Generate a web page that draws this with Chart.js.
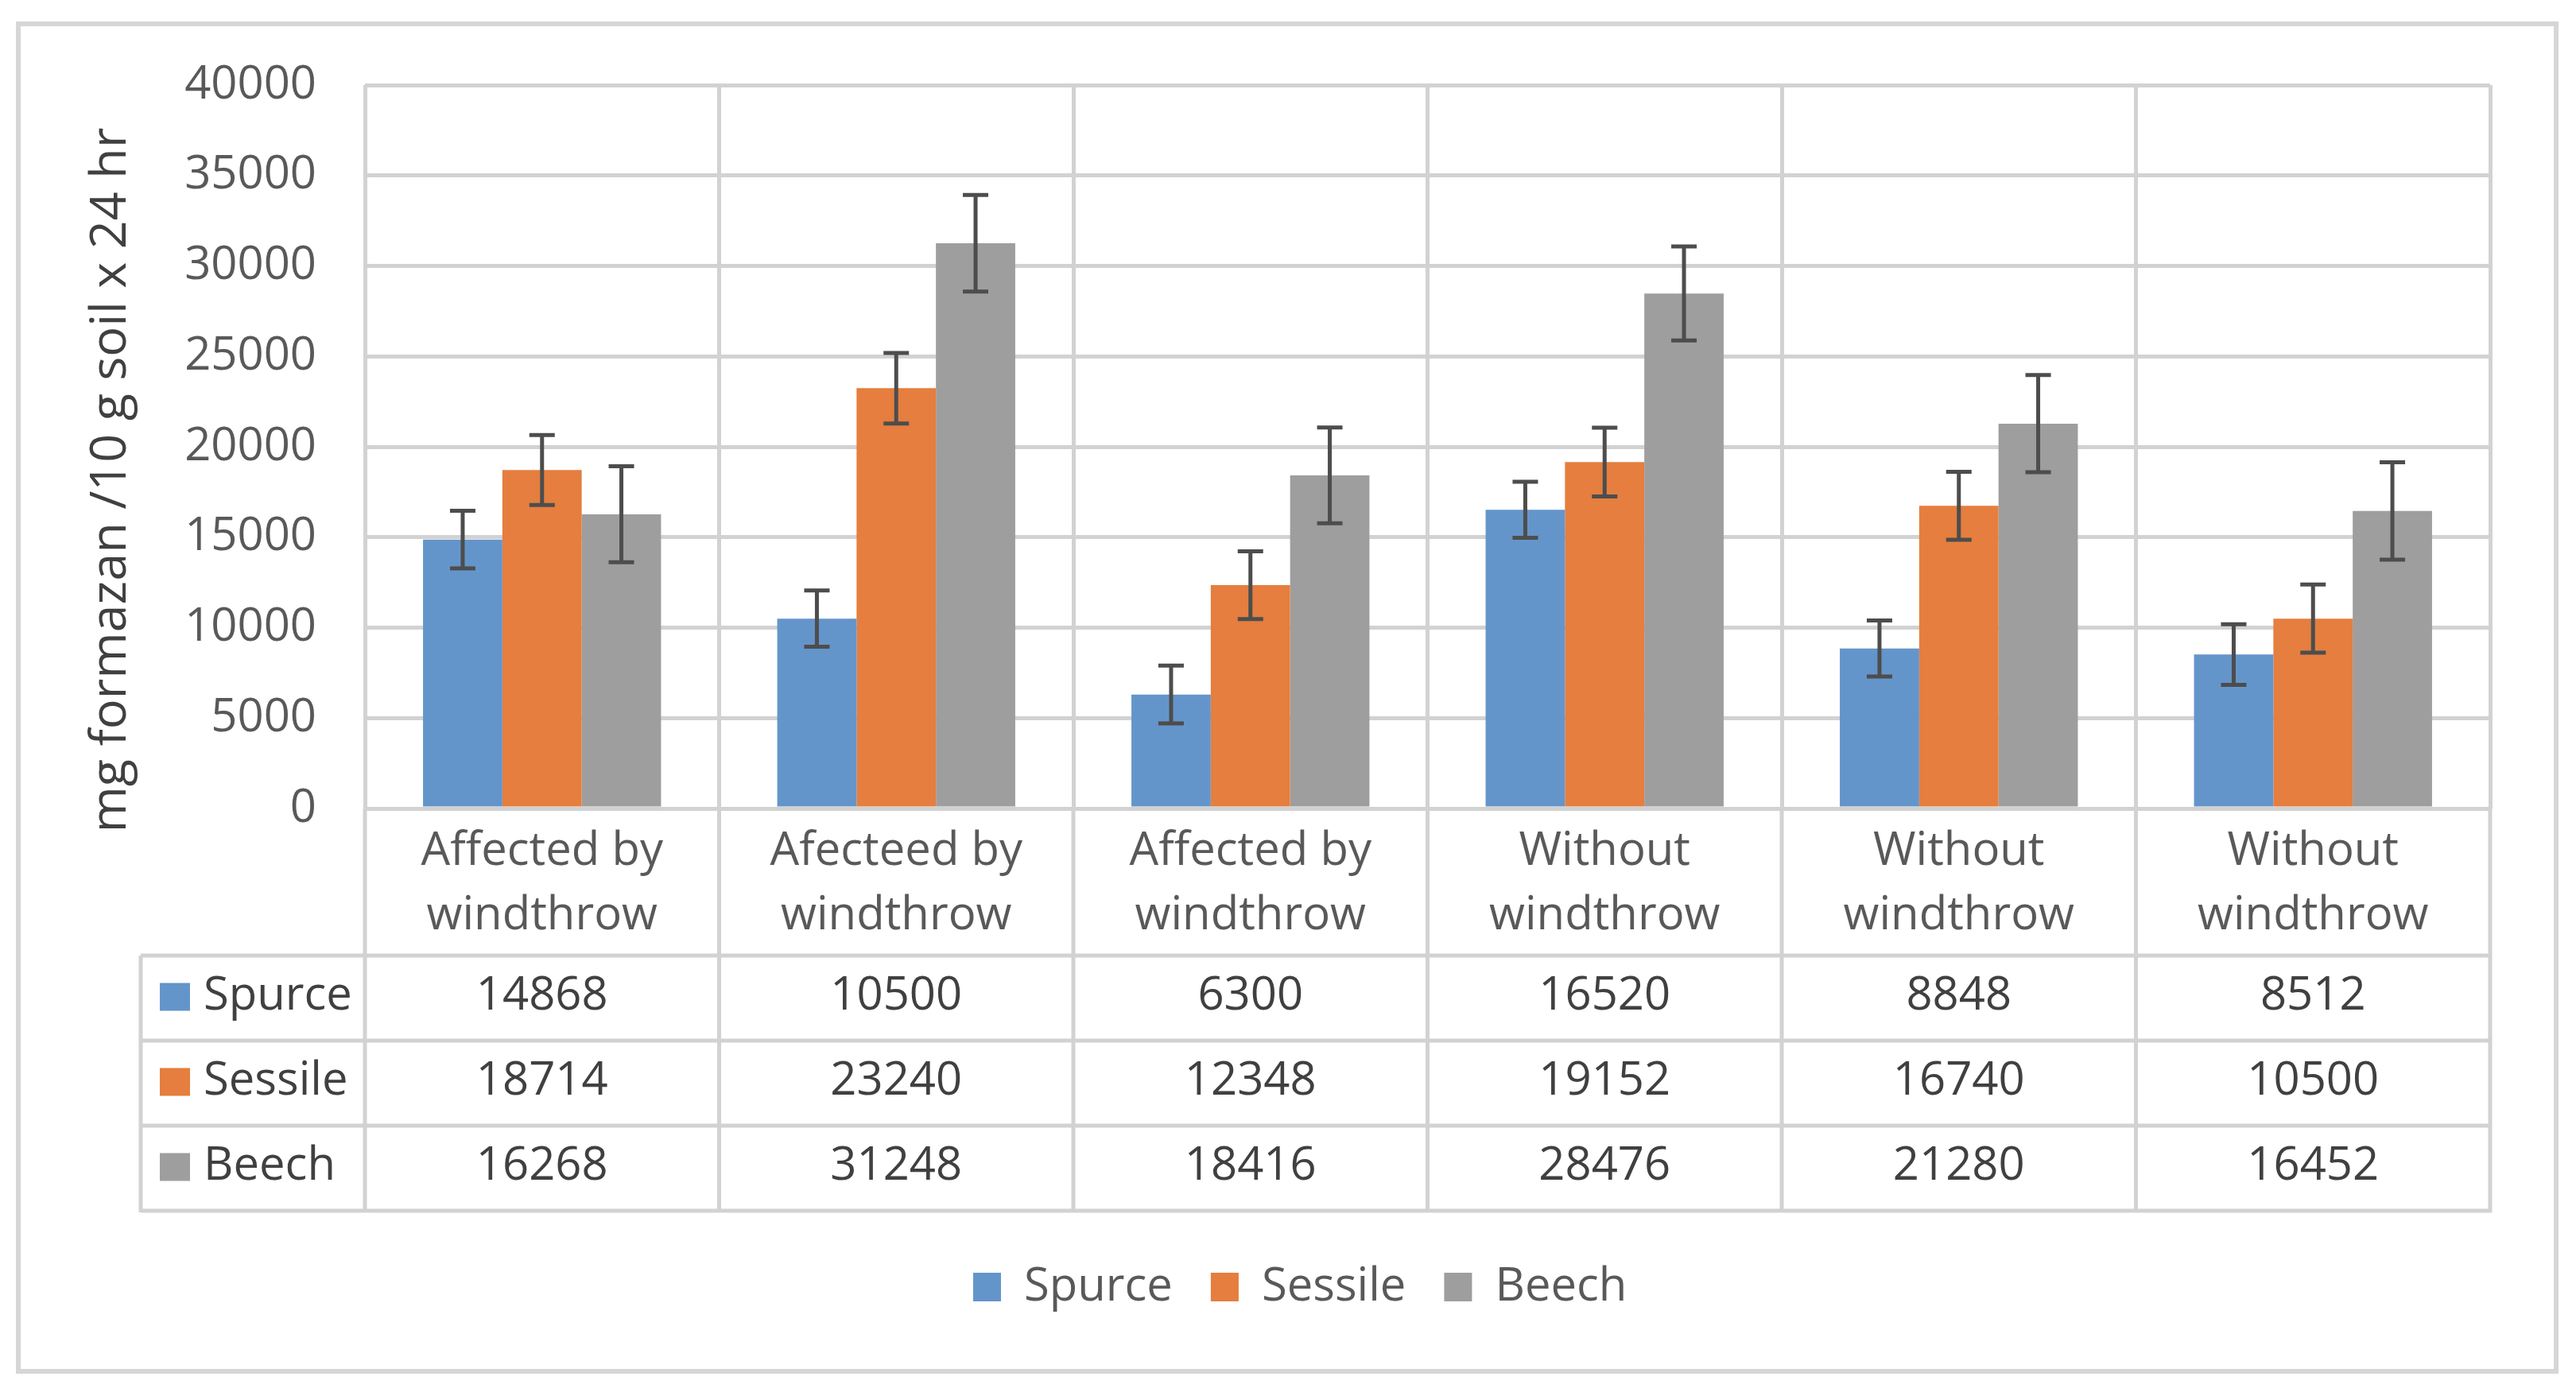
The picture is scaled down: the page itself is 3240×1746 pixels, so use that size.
<!DOCTYPE html>
<html>
<head>
<meta charset="utf-8">
<script src="https://cdn.jsdelivr.net/npm/chart.js@4.4.1/dist/chart.umd.min.js"></script>
<style>
html,body{margin:0;padding:0;background:#fff;}
canvas{display:block;}
</style>
</head>
<body>
<canvas id="c" width="3240" height="1746"></canvas>
<script>
// ---- data ----
const categories = [
  ["Affected by", "windthrow"],
  ["Afecteed by", "windthrow"],
  ["Affected by", "windthrow"],
  ["Without", "windthrow"],
  ["Without", "windthrow"],
  ["Without", "windthrow"]
];
const seriesNames = ["Spurce", "Sessile", "Beech"];
const spurce  = [14868, 10500, 6300, 16520, 8848, 8512];
const sessile = [18714, 23240, 12348, 19152, 16740, 10500];
const beech   = [16268, 31248, 18416, 28476, 21280, 16452];
const spurceErr  = [1590, 1560, 1600, 1550, 1550, 1680];
const sessileErr = [1930, 1950, 1870, 1900, 1880, 1880];
const beechErr   = [2650, 2670, 2650, 2600, 2690, 2690];
const yTicks = [0, 5000, 10000, 15000, 20000, 25000, 30000, 35000, 40000];
const yTitle = "mg formazan /10 g soil x 24 hr";

// ---- styles ----
const FONT = "'Open Sans', 'DejaVu Sans', sans-serif";
const colors = ['#6495ca', '#e57e3e', '#9e9e9e'];
const gridColor = '#d2d2d2';
const textColor = '#595959';
const darkText = '#404040';

const values = [spurce, sessile, beech];
const errs = [spurceErr, sessileErr, beechErr];

Chart.defaults.font.family = FONT;
Chart.defaults.color = textColor;

const decor = {
  id: 'decor',
  beforeDraw(chart) {
    const ctx = chart.ctx;
    ctx.save();
    ctx.fillStyle = '#ffffff';
    ctx.fillRect(0, 0, chart.width, chart.height);
    ctx.restore();
  },
  afterLayout(chart) {
    const lg = chart.legend;
    if (lg && lg.lineWidths) {
      const pad = lg.options.labels.padding;
      const x0 = (lg.left + pad + lg.right - lg.lineWidths[0]) / 2;
      const d = 1224 - x0;
      lg.left += d; lg.right += d;
    }
  },
  afterDatasetsDraw(chart) {
    const ctx = chart.ctx;
    const y = chart.scales.y;
    ctx.save();
    ctx.strokeStyle = '#4d4d4d';
    ctx.lineWidth = 5;
    values.forEach((vals, i) => {
      const meta = chart.getDatasetMeta(i);
      meta.data.forEach((bar, j) => {
        const yt = y.getPixelForValue(vals[j] + errs[i][j]);
        const yb = y.getPixelForValue(vals[j] - errs[i][j]);
        const x = bar.x;
        ctx.beginPath();
        ctx.moveTo(x, yt); ctx.lineTo(x, yb);
        ctx.moveTo(x - 16, yt); ctx.lineTo(x + 16, yt);
        ctx.moveTo(x - 16, yb); ctx.lineTo(x + 16, yb);
        ctx.stroke();
      });
    });
    ctx.restore();
  },
  afterDraw(chart) {
    const ctx = chart.ctx;
    const xs = chart.scales.x;
    const area = chart.chartArea;
    ctx.save();
    // outer border
    ctx.strokeStyle = '#d6d6d6';
    ctx.lineWidth = 6;
    ctx.strokeRect(23, 30, 3192, 1695);

    // data table
    const half = (xs.getPixelForValue(1) - xs.getPixelForValue(0)) / 2;
    const tableLeft = 177;
    const rowTop = area.bottom + 185;
    const rowH = 107;
    const tableBottom = rowTop + rowH * 3;
    ctx.strokeStyle = gridColor;
    ctx.lineWidth = 5;
    ctx.beginPath();
    for (let r = 0; r <= 3; r++) {
      const yy = rowTop + r * rowH;
      ctx.moveTo(tableLeft, yy); ctx.lineTo(area.right + 2, yy);
    }
    ctx.moveTo(tableLeft, rowTop); ctx.lineTo(tableLeft, tableBottom + 2);
    for (let i = 0; i <= categories.length; i++) {
      const xx = (i < categories.length ? xs.getPixelForValue(i) - half : xs.getPixelForValue(categories.length - 1) + half);
      ctx.moveTo(xx, area.bottom); ctx.lineTo(xx, tableBottom + 2);
    }
    ctx.stroke();

    ctx.font = '58px ' + FONT;
    ctx.textBaseline = 'middle';
    seriesNames.forEach((name, r) => {
      const cy = rowTop + r * rowH + rowH / 2 - 2;
      ctx.fillStyle = colors[r];
      ctx.fillRect(201, cy - 17, 38, 35);
      ctx.fillStyle = darkText;
      ctx.textAlign = 'left';
      ctx.fillText(name, 256, cy);
      ctx.textAlign = 'center';
      values[r].forEach((v, j) => {
        ctx.fillText(String(v), xs.getPixelForValue(j), cy);
      });
    });

    // y axis title
    ctx.save();
    ctx.translate(140, 604);
    ctx.rotate(-Math.PI / 2);
    ctx.font = '63px ' + FONT;
    ctx.fillStyle = darkText;
    ctx.textAlign = 'center';
    ctx.textBaseline = 'middle';
    ctx.fillText(yTitle, 0, 0);
    ctx.restore();
    ctx.restore();
  }
};

new Chart(document.getElementById('c'), {
  type: 'bar',
  data: {
    labels: categories,
    datasets: seriesNames.map((name, i) => ({
      label: name,
      data: values[i],
      backgroundColor: colors[i],
      borderWidth: 0,
      categoryPercentage: 0.672,
      barPercentage: 1.0
    }))
  },
  options: {
    responsive: false,
    devicePixelRatio: 1,
    animation: false,
    layout: { padding: { left: 30, top: 107, right: 108, bottom: 88 } },
    plugins: {
      legend: {
        position: 'bottom',
        labels: {
          boxWidth: 35,
          boxHeight: 36,
          padding: 48,
          color: textColor,
          font: { size: 58 }
        }
      },
      tooltip: { enabled: false },
      title: { display: false }
    },
    scales: {
      x: {
        grid: { display: true, offset: true, color: gridColor, lineWidth: 5, drawTicks: false },
        border: { display: false },
        ticks: { color: textColor, font: { size: 58, lineHeight: 1.4 }, padding: 14, maxRotation: 0, autoSkip: false },
        afterFit(scale) { scale.height = 525; }
      },
      y: {
        min: 0,
        max: 40000,
        afterBuildTicks(scale) { scale.ticks = yTicks.map(v => ({ value: v })); },
        grid: { color: gridColor, lineWidth: 5, drawTicks: false },
        border: { display: false },
        ticks: { color: textColor, font: { size: 58 }, padding: 61, callback: v => String(v) },
        afterFit(scale) { scale.width = 429; }
      }
    }
  },
  plugins: [decor]
});
</script>
</body>
</html>
